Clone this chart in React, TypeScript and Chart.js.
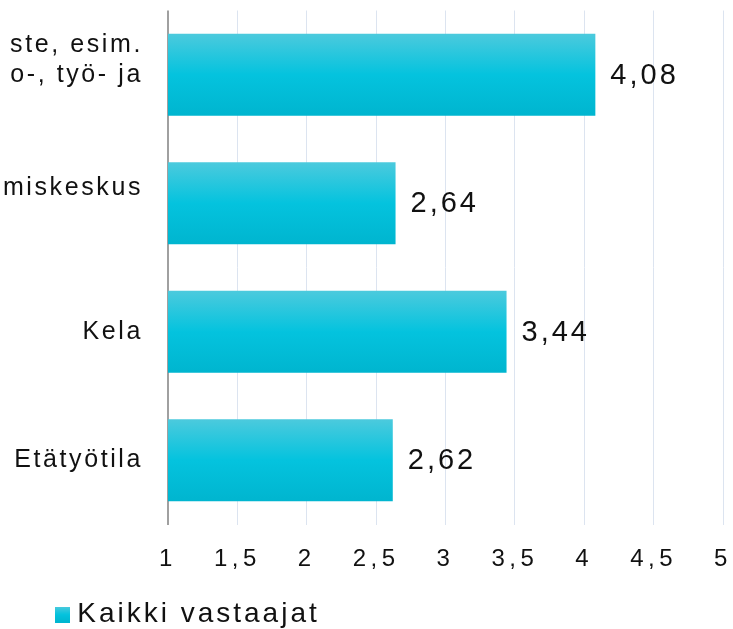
import React, { useEffect, useRef } from 'react';
import { Chart, registerables } from 'chart.js';

Chart.register(...registerables);

// ---- data ----
const categories: (string | string[])[] = [
  ['ste, esim.', 'o-, työ- ja', ''],
  ['miskeskus', ''],
  'Kela',
  'Etätyötila',
];
const values: number[] = [4.08, 2.64, 3.44, 2.62];
const seriesLabel = 'Kaikki vastaajat';
const xMin = 1;
const xMax = 5;
const xStep = 0.5;

const FONT = '"Liberation Sans", Arial, Helvetica, sans-serif';
const TEXT = '#111111';
const spacingBySize: Record<number, string> = { 24: '4.5px', 25: '2.6px', 28: '3px', 29: '3px' };

function patchLetterSpacing(ctx: any) {
  if (ctx.__spacingPatched) return;
  ctx.__spacingPatched = true;
  const pick = (font: string) => {
    const m = /([\d.]+)px/.exec(font);
    const s = m ? Math.round(parseFloat(m[1])) : 0;
    return spacingBySize[s] || '0px';
  };
  const fill = ctx.fillText;
  const measure = ctx.measureText;
  ctx.fillText = function (t: string, x: number, y: number, w?: number) {
    this.letterSpacing = pick(this.font);
    return w === undefined ? fill.call(this, t, x, y) : fill.call(this, t, x, y, w);
  };
  ctx.measureText = function (t: string) {
    this.letterSpacing = pick(this.font);
    return measure.call(this, t);
  };
}

function addStops(g: CanvasGradient) {
  g.addColorStop(0, '#4ccadd');
  g.addColorStop(0.5, '#04c3de');
  g.addColorStop(1, '#00b5cf');
}

function makeSwatch() {
  const c = document.createElement('canvas');
  c.width = 15;
  c.height = 16;
  const g = c.getContext('2d')!;
  const gr = g.createLinearGradient(0, 0, 0, 16);
  addStops(gr);
  g.fillStyle = gr;
  g.fillRect(0, 0, 15, 16);
  return c;
}

const barFill = (c: any) => {
  const chart = c.chart;
  const area = chart.chartArea;
  if (!area || c.type !== 'data') return '#04c3de';
  const cy = chart.scales.y.getPixelForValue(c.dataIndex);
  const h = ((area.bottom - area.top) / categories.length) * 0.64;
  const g = chart.ctx.createLinearGradient(0, cy - h / 2, 0, cy + h / 2);
  addStops(g);
  return g;
};

const valueLabels = {
  id: 'valueLabels',
  afterDatasetsDraw(chart: any) {
    const ctx = chart.ctx;
    const meta = chart.getDatasetMeta(0);
    ctx.save();
    ctx.font = `29px ${FONT}`;
    ctx.fillStyle = TEXT;
    ctx.textAlign = 'left';
    ctx.textBaseline = 'middle';
    meta.data.forEach((bar: any, i: number) => {
      ctx.fillText(values[i].toFixed(2).replace('.', ','), bar.x + 15, bar.y + 1);
    });
    ctx.restore();
  },
};

export default function App() {
  const ref = useRef<HTMLCanvasElement>(null);
  useEffect(() => {
    const canvas = ref.current!;
    const ctx = canvas.getContext('2d')!;
    patchLetterSpacing(ctx);
    const swatch = makeSwatch();
    const chart = new Chart(canvas, {
      type: 'bar',
      data: {
        labels: categories as any,
        datasets: [
          {
            label: seriesLabel,
            data: values,
            backgroundColor: barFill as any,
            borderWidth: 0,
            barPercentage: 0.64,
            categoryPercentage: 1,
          },
        ],
      },
      options: {
        indexAxis: 'y',
        responsive: false,
        animation: false,
        layout: { padding: { top: 10.5, right: 10, bottom: 1.5, left: 8 } },
        scales: {
          x: {
            type: 'linear',
            position: 'bottom',
            min: xMin,
            max: xMax,
            ticks: {
              stepSize: xStep,
              callback: (v: any) => String(v).replace('.', ','),
              font: { family: FONT, size: 24 },
              color: TEXT,
              padding: 20,
              maxRotation: 0,
              autoSkip: false,
            },
            grid: {
              drawTicks: false,
              color: (c: any) => (c.tick && c.tick.value === xMin ? '#a0a0a0' : '#dce4f0'),
              lineWidth: (c: any) => (c.tick && c.tick.value === xMin ? 2 : 1),
            },
            border: { display: false },
            afterFit: (s: any) => {
              s.height = 66;
              s.paddingLeft = 0;
              s.paddingRight = 0;
            },
          },
          y: {
            ticks: {
              font: { family: FONT, size: 25, lineHeight: 1.18 },
              color: TEXT,
              padding: 25,
              autoSkip: false,
            },
            grid: { display: false, drawTicks: false },
            border: { display: false },
            afterFit: (s: any) => {
              s.width = 510;
              s.paddingTop = 0;
              s.paddingBottom = 0;
            },
          },
        },
        plugins: {
          legend: {
            position: 'bottom',
            labels: {
              usePointStyle: true,
              pointStyle: swatch as any,
              pointStyleWidth: 2,
              font: { family: FONT, size: 28 },
              color: TEXT,
              padding: 10,
            },
          },
          tooltip: { enabled: false },
        },
      },
      plugins: [valueLabels],
    });
    return () => chart.destroy();
  }, []);

  return (
    <div
      style={{
        position: 'fixed',
        left: 0,
        top: 0,
        width: 733,
        height: 629,
        overflow: 'hidden',
        background: '#ffffff',
      }}
    >
      <canvas
        ref={ref}
        width={1083}
        height={640}
        style={{ position: 'absolute', left: -350, top: 0, width: 1083, height: 640, display: 'block' }}
      />
    </div>
  );
}
